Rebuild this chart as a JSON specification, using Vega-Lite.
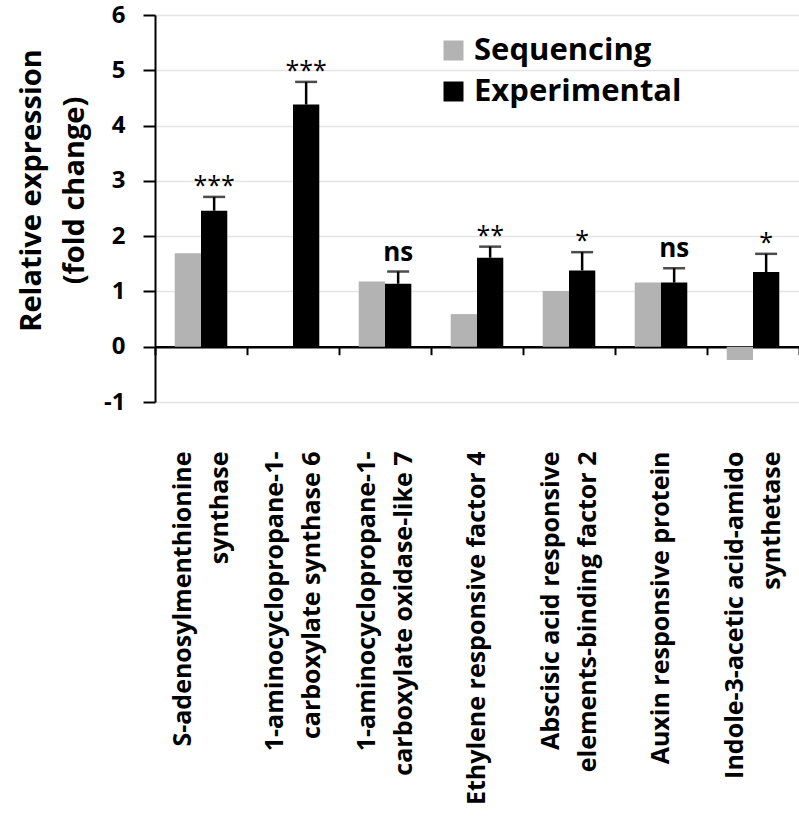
{
  "$schema": "https://vega.github.io/schema/vega-lite/v6.json",
  "width": 644,
  "height": 387,
  "autosize": {"type": "none"},
  "padding": {"left": 155, "top": 15, "right": 0, "bottom": 424},
  "background": "white",
  "config": {"view": {"stroke": null}, "font": "Open Sans"},
  "data": {
    "values": [
      {"gene": "S-adenosylmenthionine|synthase", "series": "Sequencing", "value": 1.69},
      {"gene": "S-adenosylmenthionine|synthase", "series": "Experimental", "value": 2.46, "upper": 2.71, "sig": "***"},
      {"gene": "1-aminocyclopropane-1-|carboxylate synthase 6", "series": "Sequencing", "value": 0.0},
      {"gene": "1-aminocyclopropane-1-|carboxylate synthase 6", "series": "Experimental", "value": 4.38, "upper": 4.79, "sig": "***"},
      {"gene": "1-aminocyclopropane-1-|carboxylate oxidase-like 7", "series": "Sequencing", "value": 1.18},
      {"gene": "1-aminocyclopropane-1-|carboxylate oxidase-like 7", "series": "Experimental", "value": 1.14, "upper": 1.36, "sig": "ns"},
      {"gene": "Ethylene responsive factor 4", "series": "Sequencing", "value": 0.59},
      {"gene": "Ethylene responsive factor 4", "series": "Experimental", "value": 1.61, "upper": 1.81, "sig": "**"},
      {"gene": "Abscisic acid responsive|elements-binding factor 2", "series": "Sequencing", "value": 1.01},
      {"gene": "Abscisic acid responsive|elements-binding factor 2", "series": "Experimental", "value": 1.38, "upper": 1.71, "sig": "*"},
      {"gene": "Auxin responsive protein", "series": "Sequencing", "value": 1.16},
      {"gene": "Auxin responsive protein", "series": "Experimental", "value": 1.16, "upper": 1.42, "sig": "ns"},
      {"gene": "Indole-3-acetic acid-amido|synthetase", "series": "Sequencing", "value": -0.24},
      {"gene": "Indole-3-acetic acid-amido|synthetase", "series": "Experimental", "value": 1.35, "upper": 1.68, "sig": "*"}
    ]
  },
  "layer": [
    {
      "mark": {"type": "bar"},
      "encoding": {
        "x": {
          "field": "gene", "type": "nominal", "sort": null,
          "scale": {"paddingInner": 0, "paddingOuter": 0},
          "axis": {
            "title": null, "domain": false, "ticks": false, "grid": false,
            "labelAngle": -90, "labelAlign": "right", "labelBaseline": "middle",
            "labelExpr": "split(datum.label, '|')",
            "labelOffset": {"condition": {"test": "indexof(datum.label, '|') >= 0", "value": -18}, "value": 0},
            "labelFont": "Open Sans", "labelFontSize": 25, "labelFontWeight": "bold",
            "labelColor": "black", "labelLineHeight": 37, "labelPadding": 49,
            "labelLimit": 0
          }
        },
        "xOffset": {
          "field": "series", "type": "nominal",
          "scale": {"domain": ["Sequencing", "Experimental"], "paddingInner": 0, "paddingOuter": 0.75}
        },
        "y": {
          "field": "value", "type": "quantitative",
          "scale": {"domain": [-1, 6], "nice": false},
          "axis": {
            "values": [-1, 0, 1, 2, 3, 4, 5, 6],
            "labelExpr": "datum.value + ''",
            "title": ["Relative expression", "(fold change)"],
            "titleFont": "Open Sans", "titleFontSize": 29, "titleFontWeight": "bold",
            "titleColor": "black", "titleLineHeight": 43,
            "titleAngle": -90, "titleAlign": "center", "titleBaseline": "middle",
            "titleX": -124, "titleY": 175,
            "labelFont": "Open Sans", "labelFontSize": 24, "labelFontWeight": "bold",
            "labelColor": "black", "labelPadding": 18,
            "domainColor": "black", "domainWidth": 2,
            "tickColor": "black", "tickWidth": 2, "tickSize": 12,
            "grid": true, "gridColor": "#e4e4e4", "gridWidth": 1.5
          }
        },
        "color": {
          "field": "series", "type": "nominal",
          "scale": {"domain": ["Sequencing", "Experimental"], "range": ["#b3b3b3", "#000000"]},
          "legend": {
            "title": null, "orient": "none", "legendX": 283, "legendY": 20,
            "symbolType": "square", "symbolSize": 400, "symbolStrokeWidth": 0,
            "labelFont": "Open Sans", "labelFontSize": 31, "labelFontWeight": "bold",
            "labelColor": "black", "labelOffset": 5, "rowPadding": 9, "labelLimit": 0
          }
        }
      }
    },
    {
      "transform": [{"filter": "datum.series === 'Experimental'"}],
      "mark": {"type": "rule", "color": "black", "strokeWidth": 2.5},
      "encoding": {
        "x": {"field": "gene", "type": "nominal", "sort": null, "axis": null},
        "xOffset": {"field": "series", "type": "nominal"},
        "y": {"field": "value", "type": "quantitative"},
        "y2": {"field": "upper"}
      }
    },
    {
      "transform": [{"filter": "datum.series === 'Experimental'"}],
      "mark": {"type": "tick", "color": "black", "thickness": 2.5, "size": 22, "orient": "horizontal"},
      "encoding": {
        "x": {
          "field": "gene", "type": "nominal", "sort": null,
          "axis": {
            "orient": "bottom", "offset": -55.3, "title": null, "labels": false, "grid": false,
            "domain": true, "domainColor": "black", "domainWidth": 2.5,
            "ticks": true, "tickBand": "extent", "tickColor": "black", "tickWidth": 2, "tickSize": 8
          }
        },
        "xOffset": {"field": "series", "type": "nominal"},
        "y": {"field": "upper", "type": "quantitative"}
      }
    },
    {
      "transform": [{"filter": "datum.sig === 'ns'"}],
      "mark": {"type": "text", "color": "black", "font": "Open Sans", "fontSize": 26, "fontWeight": "bold", "baseline": "alphabetic", "dy": -11},
      "encoding": {
        "x": {"field": "gene", "type": "nominal", "sort": null, "axis": null},
        "xOffset": {"field": "series", "type": "nominal"},
        "y": {"field": "upper", "type": "quantitative"},
        "text": {"field": "sig"}
      }
    },
    {
      "transform": [{"filter": "datum.sig != null && datum.sig !== 'ns'"}],
      "mark": {"type": "text", "color": "black", "font": "Open Sans", "fontSize": 25, "baseline": "alphabetic", "dy": -3},
      "encoding": {
        "x": {"field": "gene", "type": "nominal", "sort": null, "axis": null},
        "xOffset": {"field": "series", "type": "nominal"},
        "y": {"field": "upper", "type": "quantitative"},
        "text": {"field": "sig"}
      }
    }
  ],
  "resolve": {"axis": {"x": "independent"}}
}
